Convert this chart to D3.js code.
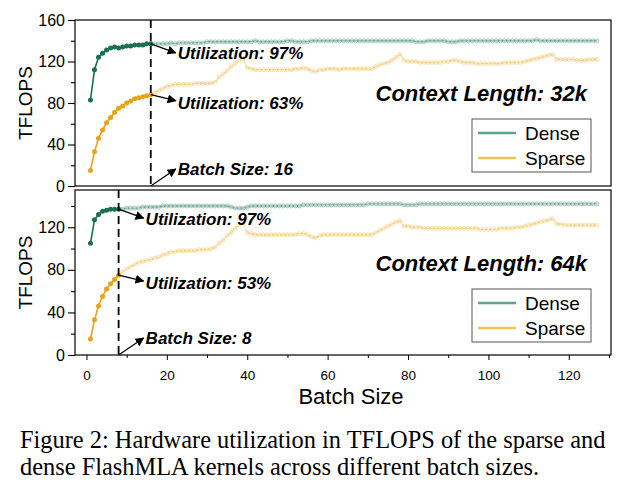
<!DOCTYPE html>
<html>
<head>
<meta charset="utf-8">
<script src="https://cdn.jsdelivr.net/npm/d3@7"></script>
<style>
body { margin: 0; background: #fff; }
svg { display: block; }
</style>
</head>
<body>
<script>
var W = 624, H = 496;

// batch sizes 1..127
var batch = d3.range(1, 128);

var dense32 = [83,112,124,128,131,133,134,133,134,135,135,136,136,136,137,137,
  137,137,137,137,138,137,138,138,138,138,138,138,138,139,
  139,139,139,139,139,139,139,139,139,139,139,140,139,139,139,
  139,139,139,139,140,140,139,139,139,139,140,140,140,140,140,
  140,140,140,140,140,140,140,140,140,140,140,140,140,140,140,
  140,140,140,140,140,140,139,139,139,140,140,140,140,140,139,
  139,139,140,140,140,140,140,140,140,140,140,140,140,140,140,
  140,140,140,140,140,140,141,140,140,140,140,140,140,140,140,
  140,140,140,140,140,140,140];
var sparse32 = [15,33,46,54,61,66,71,75,77,80,82,84,85,86,87,88,
  90,92,94,96,97,98,98,98,98,98,99,99,99,99,99,
  100,105,108,111,115,118,121,123,114,
  113,112,112,112,112,112,112,112,112,112,112,113,113,114,113,111,
  110,112,112,113,113,113,112,113,113,113,113,113,113,113,113,
  115,117,118,119,121,124,127,121,
  120,120,120,119,119,119,119,119,119,120,120,121,121,120,119,
  119,119,118,118,118,118,118,118,118,119,119,119,119,119,
  120,121,122,123,124,125,126,127,122,
  122,122,122,122,121,121,121,122,122,122];
var dense64 = [105,127,132,135,136,137,137,137,
  137,138,138,138,138,139,139,139,139,139,140,140,140,140,140,
  140,140,140,140,140,140,140,140,140,140,140,140,139,138,138,
  138,139,140,140,140,140,140,140,140,140,140,140,140,140,140,
  141,141,141,141,141,141,141,141,141,141,141,141,141,141,141,
  141,142,142,142,142,142,142,142,142,142,141,141,141,141,142,
  142,142,142,142,142,142,142,142,142,142,142,142,142,142,142,
  142,142,142,142,142,142,142,142,142,142,142,142,142,142,142,
  142,142,142,142,142,142,142,142,142,142,142,142,142,142];
var sparse64 = [15,33,46,55,62,67,71,75,
  78,81,83,85,87,88,89,90,91,92,94,95,97,97,98,
  98,98,98,98,99,99,99,100,101,
  105,108,112,115,119,122,124,115,
  114,113,113,113,113,113,113,113,113,113,113,113,114,114,113,111,
  110,112,113,113,113,113,113,113,113,113,113,113,113,113,113,
  115,117,119,121,123,125,126,121,
  121,120,120,120,119,119,119,119,119,119,119,119,119,119,119,
  119,119,119,118,118,118,118,118,119,119,119,119,120,120,
  121,122,123,124,125,126,127,128,123,
  123,122,122,122,122,122,122,122,122,122];

var seriesNames = ['Dense', 'Sparse'];
var xTicks = [0, 20, 40, 60, 80, 100, 120];
var xMinor = [10, 30, 50, 70, 90, 110, 130];
var yTicks = [0, 40, 80, 120, 160];
var yMinor = [20, 60, 100, 140];

var panels = [
  { dense: dense32, sparse: sparse32, split: 16, ctx: 'Context Length: 32k',
    utilDense: 'Utilization: 97%', utilSparse: 'Utilization: 63%', bs: 'Batch Size: 16',
    yMax: 160, top: 20, bottom: 186 },
  { dense: dense64, sparse: sparse64, split: 8, ctx: 'Context Length: 64k',
    utilDense: 'Utilization: 97%', utilSparse: 'Utilization: 53%', bs: 'Batch Size: 8',
    yMax: 155, top: 190, bottom: 355 }
];

var colors = {
  Dense: { dark: '#1a7052', light: '#1c7656', legend: '#5ea48a' },
  Sparse: { dark: '#e9a21c', light: '#eeb33a', legend: '#f0c15a' }
};

var svg = d3.select('body').append('svg')
  .attr('width', W).attr('height', H)
  .style('font-family', '"Liberation Sans", Arial, sans-serif');

svg.append('defs').append('marker')
  .attr('id', 'arrow')
  .attr('viewBox', '0 0 10 10')
  .attr('refX', 9).attr('refY', 5)
  .attr('markerWidth', 9).attr('markerHeight', 9)
  .attr('markerUnits', 'userSpaceOnUse')
  .attr('orient', 'auto')
  .append('path').attr('d', 'M0,0 L10,5 L0,10 z').attr('fill', '#000');

var left = 75, right = 611;
var x = d3.scaleLinear().domain([-2.85, 130.5]).range([left, right]);

panels.forEach(function(p, pi) {
  var y = d3.scaleLinear().domain([0, p.yMax]).range([p.bottom, p.top]);
  var g = svg.append('g');

  // frame
  g.append('rect')
    .attr('x', left).attr('y', p.top)
    .attr('width', right - left).attr('height', p.bottom - p.top)
    .attr('fill', 'none').attr('stroke', '#000').attr('stroke-width', 1.2);

  // y axis
  var ya = g.append('g').attr('transform', 'translate(' + left + ',0)')
    .call(d3.axisLeft(y).tickValues(yTicks.filter(function(t){return t <= p.yMax;}))
      .tickSize(7).tickSizeOuter(0).tickPadding(3));
  ya.selectAll('text').attr('font-size', 16).attr('font-family', '"Liberation Sans", Arial, sans-serif').attr('fill', '#000');
  g.append('g').attr('transform', 'translate(' + left + ',0)')
    .call(d3.axisLeft(y).tickValues(yMinor.filter(function(t){return t <= p.yMax;}))
      .tickSize(4).tickSizeOuter(0).tickFormat(''));
  g.selectAll('.domain').remove();
  g.selectAll('.tick line').attr('stroke-width', 1.1);

  // x axis only on bottom panel
  if (pi === 1) {
    var xa = g.append('g').attr('transform', 'translate(0,' + p.bottom + ')')
      .call(d3.axisBottom(x).tickValues(xTicks).tickSize(5).tickSizeOuter(0).tickPadding(10));
    xa.selectAll('text').attr('font-size', 13.5).attr('font-family', '"Liberation Sans", Arial, sans-serif').attr('fill', '#000');
    g.append('g').attr('transform', 'translate(0,' + p.bottom + ')')
      .call(d3.axisBottom(x).tickValues(xMinor).tickSize(3).tickSizeOuter(0).tickFormat(''));
    g.selectAll('.domain').remove();
  }

  // y title
  g.append('text')
    .attr('transform', 'translate(32,' + ((p.top + p.bottom) / 2) + ') rotate(-90)')
    .attr('text-anchor', 'middle')
    .attr('font-size', 19)
    .text('TFLOPS');

  var line = d3.line()
    .x(function(d){ return x(d.b); })
    .y(function(d){ return y(d.v); });

  seriesNames.forEach(function(name) {
    var vals = name === 'Dense' ? p.dense : p.sparse;
    var pts = batch.map(function(b, i){ return { b: b, v: vals[i] }; });
    var head = pts.filter(function(d){ return d.b <= p.split; });
    var tail = pts.filter(function(d){ return d.b >= p.split; });
    var c = colors[name];

    // light part
    g.append('path').datum(tail)
      .attr('d', line).attr('fill', 'none')
      .attr('stroke', c.light).attr('stroke-opacity', 0.35).attr('stroke-width', 1.4);
    g.selectAll(null).data(tail.slice(1)).enter().append('circle')
      .attr('cx', function(d){ return x(d.b); })
      .attr('cy', function(d){ return y(d.v); })
      .attr('r', 2.1)
      .attr('fill', c.light).attr('fill-opacity', 0.15)
      .attr('stroke', c.light).attr('stroke-opacity', 0.35).attr('stroke-width', 0.8);

    // solid part
    g.append('path').datum(head)
      .attr('d', line).attr('fill', 'none')
      .attr('stroke', c.dark).attr('stroke-width', 1.6);
    g.selectAll(null).data(head).enter().append('circle')
      .attr('cx', function(d){ return x(d.b); })
      .attr('cy', function(d){ return y(d.v); })
      .attr('r', 2.5)
      .attr('fill', c.dark);
  });

  // dashed split line
  var sx = x(p.split);
  g.append('line')
    .attr('x1', sx).attr('x2', sx)
    .attr('y1', p.top).attr('y2', p.bottom)
    .attr('stroke', '#000').attr('stroke-width', 1.8)
    .attr('stroke-dasharray', '8,5');

  // annotations
  var dv = p.dense[p.split - 1], spv = p.sparse[p.split - 1];
  var tx = sx + 27;
  var notes = [
    { y1: y(dv), y2: y(dv) + 9, ty: y(dv) + 15.5, text: p.utilDense },
    { y1: y(spv), y2: y(spv) + 6, ty: y(spv) + 14, text: p.utilSparse },
    { y1: p.bottom, y2: p.bottom - 17, ty: p.bottom - 11, text: p.bs }
  ];
  notes.forEach(function(n) {
    g.append('line')
      .attr('x1', sx).attr('y1', n.y1)
      .attr('x2', tx - 2).attr('y2', n.y2)
      .attr('stroke', '#000').attr('stroke-width', 1.2)
      .attr('marker-end', 'url(#arrow)');
    g.append('text')
      .attr('x', tx).attr('y', n.ty)
      .attr('font-size', 17).attr('font-weight', 'bold').attr('font-style', 'italic')
      .text(n.text);
  });

  g.append('text')
    .attr('x', 587).attr('y', p.top + 81)
    .attr('text-anchor', 'end')
    .attr('font-size', 22).attr('font-weight', 'bold').attr('font-style', 'italic')
    .text(p.ctx);

  // legend
  var lg = g.append('g').attr('transform', 'translate(472,' + (p.top + 99) + ')');
  lg.append('rect').attr('width', 119).attr('height', 53)
    .attr('fill', '#fff').attr('stroke', '#555').attr('stroke-width', 1);
  seriesNames.forEach(function(name, i) {
    var ly = 14 + i * 25;
    lg.append('line').attr('x1', 6).attr('x2', 44).attr('y1', ly).attr('y2', ly)
      .attr('stroke', colors[name].legend).attr('stroke-width', 2.5);
    lg.append('text').attr('x', 53).attr('y', ly + 7)
      .attr('font-size', 19).text(name);
  });
});

svg.append('text')
  .attr('x', (left + right) / 2 + 8).attr('y', 404)
  .attr('text-anchor', 'middle')
  .attr('font-size', 22)
  .text('Batch Size');

var caption = ['Figure 2: Hardware utilization in TFLOPS of the sparse and',
  'dense FlashMLA kernels across different batch sizes.'];
svg.selectAll('.cap').data(caption).enter().append('text')
  .attr('class', 'cap')
  .attr('x', 20)
  .attr('y', function(d, i){ return 448 + i * 27; })
  .attr('font-family', '"Liberation Serif", "Times New Roman", serif')
  .attr('font-size', 24.4)
  .text(function(d){ return d; });
</script>
</body>
</html>
